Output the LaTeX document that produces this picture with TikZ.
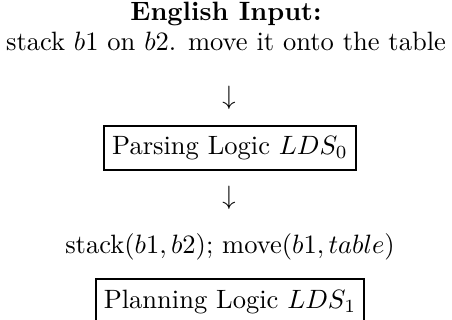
\documentclass[tikz,border=0pt]{standalone}
\begin{document}
\begin{tikzpicture}[x=0.377pt,y=-0.377pt,
  txt/.style={inner sep=0pt,anchor=center},
  boxed/.style={draw,line width=0.75pt,inner xsep=3pt,inner ysep=4pt,anchor=center},
  arr/.style={inner sep=0pt,anchor=center}]
\useasboundingbox (0,0) rectangle (452,320);
\node[txt] (title) at (226,14) {\textbf{English Input:}};
\node[txt] (input) at (226,41) {stack $b1$ on $b2$. move it onto the table};
\node[arr] (a1) at (229,98) {$\downarrow$};
\node[boxed] (parse) at (230,148) {Parsing Logic $LDS_0$};
\node[arr] (a2) at (229,198) {$\downarrow$};
\node[txt] (out) at (230,247) {stack$(b1,b2)$; move$(b1,table)$};
\node[boxed] (plan) at (230,302) {Planning Logic $LDS_1$};
\end{tikzpicture}
\end{document}
